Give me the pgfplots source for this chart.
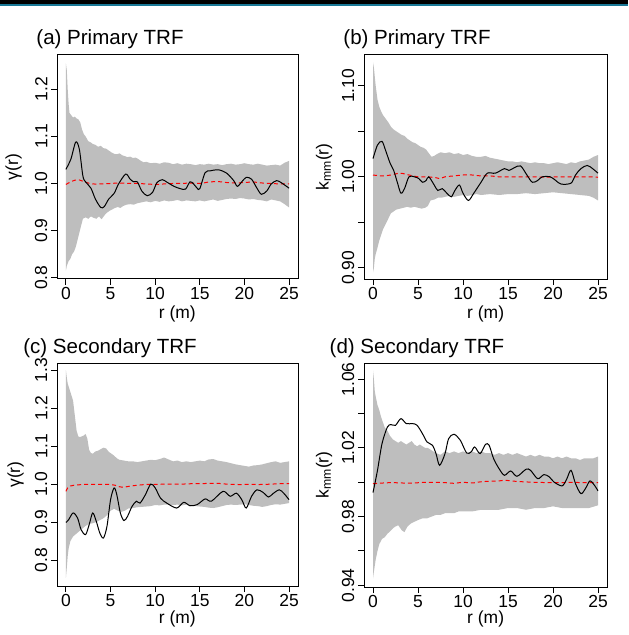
\documentclass[border=0pt]{standalone}
\usepackage{pgfplots}
\pgfplotsset{compat=1.18}
\usepgfplotslibrary{fillbetween}
\usepackage{fontspec}
\setmainfont{Liberation Sans}
\definecolor{rgray}{RGB}{190,190,190}
\definecolor{rred}{RGB}{255,0,0}
\definecolor{topteal}{RGB}{25,120,150}
\pgfplotsset{
  panel/.style={
    scale only axis, anchor=north west,
    xmin=-1, xmax=26,
    xtick={0,5,10,15,20,25},
    tick pos=left, tick align=outside,
    major tick length=4.5pt,
    axis line style={line width=0.75pt},
    every tick/.style={line width=0.75pt, black},
    /pgf/number format/assume math mode=true,
    tick label style={font=\fontsize{13.1}{15}\selectfont},
    yticklabel style={rotate=90, anchor=south, inner sep=2.6pt},
    xticklabel style={anchor=north, inner sep=1.5pt},
  },
  envelope/.style={draw=none, forget plot},
  obsline/.style={black, line width=0.75pt, smooth, tension=0.5},
  theoline/.style={rred, line width=0.75pt, dash pattern=on 3pt off 2.25pt, smooth},
}
\begin{document}
\begin{tikzpicture}
\path (0,0) rectangle (471pt,-476.25pt);
\fill[black] (0,0) rectangle (471pt,-3.2pt);
\fill[topteal] (0,-3.2pt) rectangle (471pt,-4.4pt);

% ---------------- (a)
\begin{axis}[panel, at={(42.75pt,-41.25pt)}, width=180.75pt, height=168pt,
  ymin=0.797, ymax=1.273, ytick={0.8,0.9,1.0,1.1,1.2}, yticklabels={0.8,0.9,1.0,1.1,1.2}]
\addplot[envelope, name path=up] coordinates {
(0,1.255)(0.1,1.24)(0.2,1.20)(0.3,1.17)(0.4,1.15)(0.6,1.145)(0.8,1.14)(1.0,1.142)(1.2,1.138)(1.4,1.136)(1.6,1.13)(1.8,1.115)(2.0,1.105)(2.2,1.10)(2.5,1.09)(2.8,1.087)(3.0,1.084)(3.3,1.082)(3.6,1.078)(3.9,1.080)(4.2,1.075)(4.5,1.074)(4.8,1.07)(5.1,1.066)(5.4,1.063)(5.7,1.062)(6.0,1.064)(6.3,1.060)(6.6,1.058)(6.9,1.056)(7.2,1.057)(7.5,1.054)(7.8,1.055)(8.1,1.052)(8.4,1.048)(8.7,1.045)(9.0,1.046)(9.5,1.043)(10,1.044)(10.5,1.042)(11,1.045)(11.5,1.044)(12,1.041)(12.5,1.043)(13,1.040)(13.5,1.042)(14,1.041)(14.5,1.039)(15,1.041)(15.5,1.040)(16,1.042)(16.5,1.040)(17,1.041)(17.5,1.039)(18,1.041)(18.5,1.042)(19,1.040)(19.5,1.041)(20,1.043)(20.5,1.041)(21,1.040)(21.5,1.042)(22,1.040)(22.5,1.038)(23,1.039)(23.5,1.040)(24,1.038)(24.5,1.044)(25,1.048)};
\addplot[envelope, name path=lo] coordinates {
(0,0.815)(0.1,0.825)(0.3,0.835)(0.5,0.84)(0.7,0.85)(0.9,0.855)(1.1,0.865)(1.3,0.88)(1.5,0.895)(1.7,0.91)(1.9,0.925)(2.2,0.928)(2.5,0.925)(2.8,0.93)(3.1,0.927)(3.4,0.925)(3.7,0.93)(4.0,0.924)(4.3,0.932)(4.6,0.938)(4.9,0.942)(5.2,0.945)(5.5,0.948)(5.8,0.95)(6.1,0.948)(6.4,0.952)(6.8,0.955)(7.2,0.956)(7.6,0.955)(8.0,0.958)(8.5,0.96)(9,0.962)(9.5,0.96)(10,0.963)(10.5,0.961)(11,0.964)(11.5,0.962)(12,0.963)(12.5,0.965)(13,0.962)(13.5,0.964)(14,0.963)(14.5,0.962)(15,0.964)(15.5,0.962)(16,0.964)(16.5,0.966)(17,0.963)(17.5,0.965)(18,0.967)(18.5,0.968)(19,0.967)(19.5,0.969)(20,0.968)(20.5,0.966)(21,0.967)(21.5,0.965)(22,0.964)(22.5,0.962)(23,0.966)(23.5,0.964)(24,0.962)(24.5,0.956)(25,0.949)};
\addplot[rgray, draw=none] fill between[of=up and lo];
\addplot[theoline] coordinates {
(0,0.998)(0.5,1.003)(1.0,1.007)(1.4,1.008)(2.0,1.004)(2.5,1.001)(3,0.999)(4,0.999)(5,1.0)(6,1.001)(7,1.0)(8,1.0)(9,0.999)(10,0.998)(11,0.999)(12,1.0)(13,1.0)(14,1.001)(15,1.0)(16,1.003)(17,1.004)(18,1.002)(19,1.001)(20,1.002)(21,1.003)(22,1.001)(23,1.0)(24,0.999)(25,0.999)};
\addplot[obsline] coordinates {
(0,1.03)(0.56,1.052)(1.1,1.088)(1.5,1.073)(1.9,1.016)(2.2,1.0035)(2.8,0.99)(3.3,0.967)(3.9,0.949)(4.3,0.951)(4.8,0.967)(5.4,0.979)(5.9,0.999)(6.7,1.02)(7.2,1.009)(7.6,1.0035)(8.0,1.0035)(8.5,0.984)(9.1,0.974)(9.7,0.981)(10.2,1.002)(10.8,1.008)(11.3,1.003)(12.1,0.994)(12.8,0.989)(13.4,0.988)(13.9,1.0035)(14.3,0.999)(14.7,0.99)(15.0,0.989)(15.6,1.023)(16.2,1.027)(17.1,1.029)(18.0,1.022)(18.8,1.006)(19.2,0.994)(19.7,1.0035)(20.2,1.013)(20.8,1.009)(21.4,0.99)(21.9,0.977)(22.5,0.984)(23.0,0.999)(23.6,1.006)(24.1,1.002)(25,0.99)};
\end{axis}

% ---------------- (b)
\begin{axis}[panel, at={(273pt,-41.25pt)}, width=182.25pt, height=168pt,
  ymin=0.8876, ymax=1.134, ytick={0.90,0.95,1.00,1.05,1.10}, yticklabels={0.90,,1.00,,1.10}]
\addplot[envelope, name path=up] coordinates {
(0,1.126)(0.1,1.12)(0.2,1.11)(0.3,1.10)(0.5,1.085)(0.7,1.077)(0.9,1.072)(1.1,1.068)(1.4,1.064)(1.7,1.06)(2.0,1.055)(2.3,1.052)(2.6,1.05)(2.9,1.048)(3.2,1.046)(3.5,1.045)(3.8,1.042)(4.1,1.040)(4.4,1.038)(4.7,1.037)(5.0,1.035)(5.3,1.033)(5.6,1.032)(5.9,1.03)(6.2,1.026)(6.5,1.022)(6.8,1.023)(7.1,1.025)(7.5,1.027)(8,1.026)(8.5,1.027)(9,1.025)(9.5,1.026)(10,1.024)(10.5,1.025)(11,1.023)(11.5,1.022)(12,1.022)(12.5,1.023)(13,1.021)(13.5,1.02)(14,1.019)(14.5,1.018)(15,1.017)(15.5,1.017)(16,1.016)(16.5,1.017)(17,1.016)(17.5,1.015)(18,1.016)(18.5,1.015)(19,1.015)(19.5,1.014)(20,1.015)(20.5,1.016)(21,1.015)(21.5,1.014)(22,1.016)(22.5,1.015)(23,1.017)(23.5,1.018)(24,1.019)(24.5,1.022)(25,1.024)};
\addplot[envelope, name path=lo] coordinates {
(0,0.895)(0.1,0.90)(0.2,0.91)(0.3,0.915)(0.5,0.922)(0.7,0.93)(0.9,0.936)(1.1,0.942)(1.4,0.948)(1.7,0.954)(2.0,0.96)(2.3,0.962)(2.6,0.964)(3.0,0.965)(3.4,0.966)(3.8,0.967)(4.2,0.966)(4.6,0.967)(5.0,0.966)(5.4,0.965)(5.8,0.966)(6.1,0.968)(6.4,0.974)(6.8,0.975)(7.2,0.977)(7.6,0.977)(8,0.978)(8.5,0.979)(9,0.978)(9.5,0.979)(10,0.98)(10.5,0.979)(11,0.98)(11.5,0.981)(12,0.98)(13,0.981)(14,0.98)(15,0.981)(16,0.981)(17,0.982)(18,0.981)(19,0.982)(20,0.983)(21,0.982)(22,0.981)(23,0.98)(24,0.979)(24.5,0.977)(25,0.974)};
\addplot[rgray, draw=none] fill between[of=up and lo];
\addplot[theoline] coordinates {
(0,1.002)(1,1.001)(2,1.002)(3,1.004)(4,1.002)(5,1.0)(6,1.0)(7,0.999)(7.4,0.998)(8,1.0)(9,1.001)(10,1.002)(11,1.002)(12,1.001)(13,1.001)(14,1.0)(15,1.0)(16,1.0)(17,1.0)(18,1.0)(19,0.9995)(20,0.9998)(21,1.0)(22,1.0)(23,1.0)(24,1.0)(25,0.9995)};
\addplot[obsline] coordinates {
(0,1.020)(0.5,1.035)(1.0,1.039)(1.4,1.029)(1.9,1.015)(2.3,1.007)(2.7,0.994)(3.1,0.982)(3.5,0.987)(4.0,1.0)(4.6,1.0)(5.1,0.998)(5.5,0.994)(5.9,0.996)(6.2,1.0)(6.8,0.991)(7.2,0.985)(7.7,0.987)(8.2,0.982)(8.7,0.978)(9.1,0.985)(9.6,0.991)(10.0,0.982)(10.6,0.974)(11.2,0.982)(12.0,0.994)(12.7,1.004)(13.6,1.004)(14.6,1.009)(15.1,1.007)(15.7,1.010)(16.4,1.012)(17.1,1.002)(17.7,0.994)(18.3,0.996)(18.8,1.0)(19.7,1.0)(20.3,0.996)(20.9,0.992)(22.0,0.993)(22.5,1.002)(23.1,1.009)(23.8,1.0125)(24.4,1.009)(25,1.004)};
\end{axis}

% ---------------- (c)
\begin{axis}[panel, at={(42.75pt,-272.25pt)}, width=180.75pt, height=167.25pt,
  ymin=0.7316, ymax=1.319, ytick={0.8,0.9,1.0,1.1,1.2,1.3}, yticklabels={0.8,0.9,1.0,1.1,1.2,1.3}]
\addplot[envelope, name path=up] coordinates {
(0,1.30)(0.1,1.28)(0.2,1.265)(0.4,1.25)(0.6,1.235)(0.8,1.22)(1.0,1.18)(1.2,1.14)(1.4,1.125)(1.6,1.124)(1.8,1.126)(2.0,1.128)(2.2,1.132)(2.4,1.12)(2.6,1.09)(2.8,1.082)(3.0,1.080)(3.3,1.086)(3.6,1.088)(3.9,1.092)(4.2,1.096)(4.5,1.094)(4.8,1.085)(5.1,1.08)(5.4,1.075)(5.7,1.068)(6.0,1.064)(6.5,1.062)(7.0,1.06)(7.5,1.06)(8,1.058)(8.5,1.06)(9,1.062)(9.5,1.064)(10,1.063)(10.5,1.066)(11,1.07)(11.5,1.065)(12,1.06)(12.5,1.062)(13,1.058)(13.5,1.06)(14,1.058)(14.5,1.06)(15,1.062)(15.5,1.06)(16,1.065)(16.5,1.066)(17,1.062)(17.5,1.06)(18,1.058)(18.5,1.055)(19,1.052)(19.5,1.05)(20,1.048)(20.5,1.046)(21,1.049)(21.5,1.05)(22,1.052)(22.5,1.055)(23,1.058)(23.5,1.06)(24,1.056)(24.5,1.058)(25,1.06)};
\addplot[envelope, name path=lo] coordinates {
(0,0.753)(0.1,0.78)(0.2,0.81)(0.3,0.83)(0.5,0.85)(0.8,0.862)(1.1,0.868)(1.4,0.874)(1.8,0.882)(2.2,0.89)(2.6,0.895)(3.0,0.897)(3.4,0.9)(3.8,0.905)(4.2,0.91)(4.6,0.918)(5.0,0.93)(5.4,0.935)(5.8,0.93)(6.2,0.927)(6.6,0.93)(7.0,0.936)(7.5,0.937)(8,0.939)(8.5,0.94)(9,0.941)(9.5,0.942)(10,0.945)(10.5,0.944)(11,0.946)(11.5,0.946)(12,0.945)(12.5,0.946)(13,0.944)(13.5,0.946)(14,0.944)(14.5,0.942)(15,0.941)(15.5,0.94)(16,0.938)(16.5,0.937)(17,0.939)(17.5,0.942)(18,0.945)(18.5,0.946)(19,0.945)(19.5,0.946)(20,0.947)(20.5,0.945)(21,0.943)(21.5,0.942)(22,0.94)(22.5,0.942)(23,0.945)(23.5,0.947)(24,0.946)(24.5,0.948)(25,0.95)};
\addplot[rgray, draw=none] fill between[of=up and lo];
\addplot[theoline] coordinates {
(0,0.981)(0.2,0.99)(0.5,0.995)(0.9,0.997)(2,0.999)(3,0.999)(4,0.999)(5,0.999)(5.5,0.997)(6,0.993)(6.5,0.992)(7,0.994)(8,0.997)(9,0.999)(10,0.999)(11,1.0)(12,1.0)(13,1.0)(14,1.001)(15,1.001)(16,1.002)(17,1.002)(18,1.0)(19,0.999)(20,0.999)(21,0.999)(22,0.999)(23,1.0)(24,1.001)(25,1.001)};
\addplot[obsline] coordinates {
(0,0.899)(0.3,0.906)(0.8,0.924)(1.3,0.911)(1.7,0.880)(2.2,0.867)(2.6,0.893)(3.0,0.924)(3.4,0.902)(3.8,0.871)(4.2,0.858)(4.6,0.889)(5.0,0.959)(5.4,0.99)(5.7,0.972)(6.1,0.924)(6.5,0.904)(6.9,0.915)(7.4,0.941)(7.9,0.955)(8.3,0.950)(8.9,0.972)(9.5,1.0)(10.0,0.99)(10.6,0.963)(11.3,0.950)(12.4,0.937)(13.2,0.952)(13.9,0.943)(14.7,0.946)(15.6,0.961)(16.3,0.955)(17.6,0.981)(18.4,0.968)(19.1,0.976)(19.7,0.959)(20.2,0.937)(20.8,0.968)(21.4,0.985)(22.1,0.978)(22.7,0.966)(23.2,0.975)(23.9,0.985)(24.4,0.976)(25,0.959)};
\end{axis}

% ---------------- (d)
\begin{axis}[panel, at={(273pt,-272.25pt)}, width=182.25pt, height=168pt,
  ymin=0.939, ymax=1.0695, ytick={0.94,0.96,0.98,1.00,1.02,1.04,1.06}, yticklabels={0.94,,0.98,,1.02,,1.06}]
\addplot[envelope, name path=up] coordinates {
(0,1.065)(0.1,1.06)(0.2,1.053)(0.3,1.05)(0.5,1.045)(0.7,1.042)(0.9,1.038)(1.1,1.035)(1.3,1.032)(1.6,1.03)(1.9,1.027)(2.2,1.025)(2.5,1.024)(2.8,1.023)(3.1,1.024)(3.4,1.023)(3.7,1.022)(4.0,1.023)(4.3,1.024)(4.6,1.022)(4.9,1.021)(5.2,1.022)(5.5,1.021)(5.8,1.02)(6.1,1.02)(6.4,1.019)(6.7,1.018)(7.0,1.017)(7.5,1.016)(8,1.018)(8.5,1.017)(9,1.018)(9.5,1.017)(10,1.018)(10.5,1.017)(11,1.018)(11.5,1.017)(12,1.018)(12.5,1.017)(13,1.017)(13.5,1.016)(14,1.017)(14.5,1.016)(15,1.017)(15.5,1.016)(16,1.017)(16.5,1.016)(17,1.015)(17.5,1.016)(18,1.015)(18.5,1.016)(19,1.015)(19.5,1.015)(20,1.014)(20.5,1.015)(21,1.014)(21.5,1.015)(22,1.014)(22.5,1.014)(23,1.013)(23.5,1.014)(24,1.014)(24.5,1.014)(25,1.015)};
\addplot[envelope, name path=lo] coordinates {
(0,0.944)(0.1,0.948)(0.3,0.955)(0.5,0.96)(0.7,0.964)(1.0,0.967)(1.3,0.968)(1.6,0.97)(2.0,0.972)(2.4,0.974)(2.8,0.975)(3.2,0.972)(3.5,0.971)(3.8,0.974)(4.2,0.976)(4.6,0.977)(5.0,0.978)(5.5,0.979)(6,0.979)(6.5,0.98)(7,0.981)(7.5,0.981)(8,0.982)(8.5,0.982)(9,0.982)(9.5,0.983)(10,0.983)(11,0.983)(12,0.984)(13,0.984)(14,0.984)(15,0.985)(16,0.985)(17,0.984)(18,0.985)(19,0.985)(20,0.986)(21,0.985)(22,0.985)(23,0.985)(24,0.985)(25,0.9866)};
\addplot[rgray, draw=none] fill between[of=up and lo];
\addplot[theoline] coordinates {
(0,0.9992)(2,0.9998)(4,0.9995)(6,1.0)(8,0.9998)(9,0.9994)(10,1.0)(11,0.9996)(12,1.0003)(13,1.0006)(14,1.0008)(14.6,1.0012)(16,1.0005)(18,1.0)(20,0.9998)(22,0.9999)(25,0.9998)};
\addplot[obsline] coordinates {
(0,0.994)(0.5,1.007)(1.0,1.0225)(1.6,1.0322)(2.0,1.0336)(2.5,1.0332)(3.1,1.0371)(3.7,1.0342)(4.4,1.0342)(4.9,1.0332)(5.5,1.0283)(6.0,1.0235)(6.6,1.0216)(7.0,1.0167)(7.4,1.0099)(8.0,1.0167)(8.4,1.0254)(9.0,1.028)(9.7,1.0245)(10.4,1.0171)(10.9,1.0177)(11.3,1.0206)(11.9,1.0167)(12.5,1.0221)(12.9,1.0216)(13.4,1.0138)(14.0,1.008)(14.6,1.0041)(15.3,1.0066)(16.0,1.0035)(17.0,1.0076)(17.5,1.007)(18.3,1.0021)(19.0,1.0045)(19.6,1.0031)(20.1,1.0002)(21.0,0.9979)(21.5,1.0016)(22.0,1.007)(22.5,0.9992)(23.1,0.9934)(23.6,0.9963)(24.1,1.0008)(24.6,0.9983)(25,0.995)};
\end{axis}

% titles
\begin{scope}[every node/.style={font=\fontsize{15.4}{18}\selectfont, inner sep=0pt}]
\node[anchor=base] at (82.5pt,-33.75pt) {(a) Primary TRF};
\node[anchor=base] at (312.75pt,-33.75pt) {(b) Primary TRF};
\node[anchor=base] at (82.5pt,-264.75pt) {(c) Secondary TRF};
\node[anchor=base] at (312.75pt,-264.75pt) {(d) Secondary TRF};
\end{scope}
% axis labels
\begin{scope}[every node/.style={font=\fontsize{13.1}{15}\selectfont, inner sep=0pt}]
\node[anchor=base] at (133pt,-238.5pt) {r (m)};
\node[anchor=base] at (364.25pt,-238.5pt) {r (m)};
\node[anchor=base] at (133pt,-467.25pt) {r (m)};
\node[anchor=base] at (364.25pt,-467.25pt) {r (m)};
\node[rotate=90, anchor=base] at (13.5pt,-125.25pt) {γ(r)};
\node[rotate=90, anchor=base] at (246.4pt,-125.25pt) {k\textsubscript{mm}(r)};
\node[rotate=90, anchor=base] at (15pt,-355.9pt) {γ(r)};
\node[rotate=90, anchor=base] at (246.4pt,-356.25pt) {k\textsubscript{mm}(r)};
\end{scope}
\end{tikzpicture}
\end{document}
